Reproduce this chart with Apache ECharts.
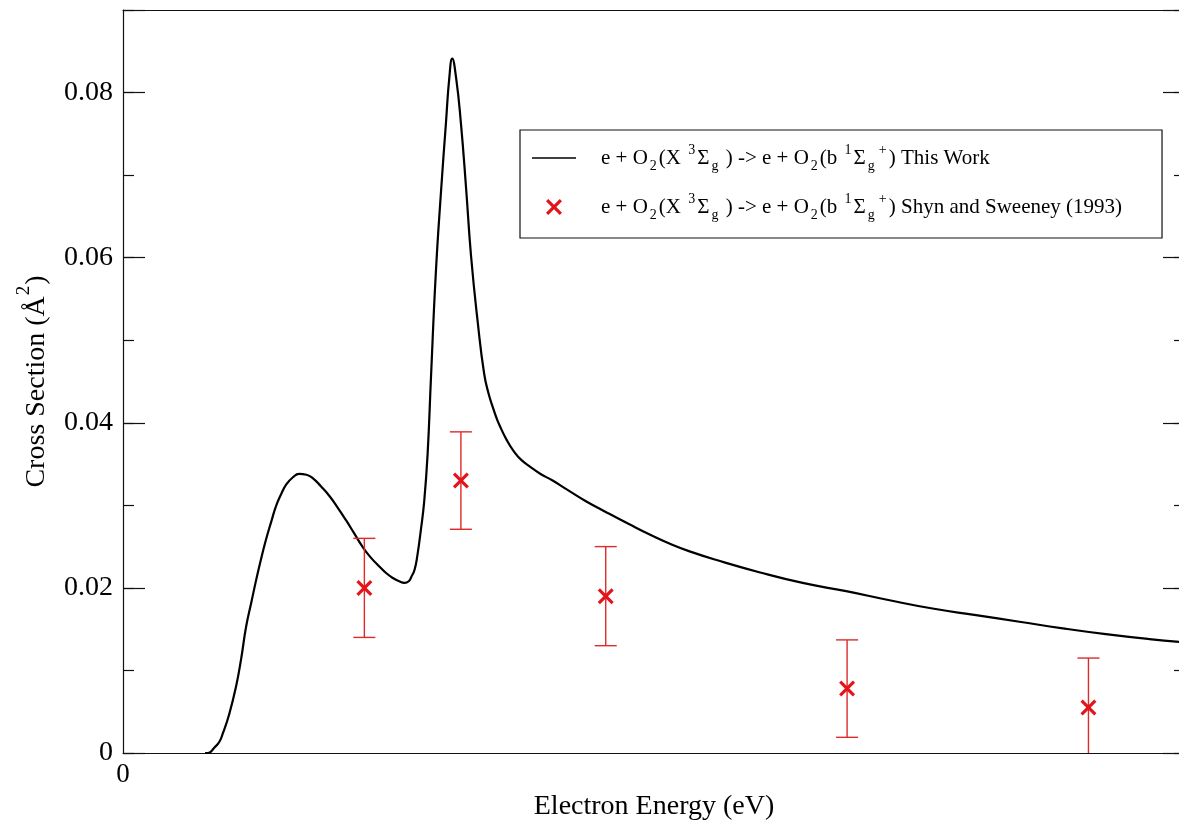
<!DOCTYPE html>
<html>
<head>
<meta charset="utf-8">
<title>Electron impact excitation of O2 b state</title>
<script src="https://cdn.jsdelivr.net/npm/echarts@6/dist/echarts.min.js"></script>
<style>
  html, body { margin: 0; padding: 0; background: #fff; }
  #chart { width: 1179px; height: 826px; }
</style>
</head>
<body>
<div id="chart"></div>
<script>
// Calculated cross section (This Work): electron energy (eV) and cross section (Å^2)
const energyTheory = [1.70, 1.76, 1.90, 2.00, 2.07, 2.20, 2.34, 2.45, 2.55, 2.66, 2.76, 2.86, 2.96, 3.07, 3.17,
  3.28, 3.38, 3.52, 3.65, 3.80, 3.93, 4.10, 4.28, 4.45, 4.62, 4.79, 4.96, 5.13, 5.31, 5.45, 5.59, 5.72,
  5.83, 5.92, 5.97, 6.04, 6.10, 6.17, 6.24, 6.31, 6.38, 6.48, 6.59, 6.69, 6.76, 6.82, 6.90, 7.00, 7.11,
  7.21, 7.35, 7.48, 7.57, 7.66, 7.73, 7.80, 7.95, 8.10, 8.25, 8.45, 8.65, 8.90, 9.20, 9.59, 10.00, 10.49,
  10.90, 11.39, 11.80, 12.28, 13.18, 14.08, 14.98, 15.88, 16.77, 17.67, 18.57, 19.47, 20.36, 21.26, 22.00];
const csTheory = [0.0000, 0.0000, 0.0007, 0.0014, 0.0024, 0.0047, 0.0080, 0.0115, 0.0153, 0.0183, 0.0210, 0.0235, 0.0258, 0.0280, 0.0299,
  0.0314, 0.0325, 0.0334, 0.0338, 0.0337, 0.0333, 0.0323, 0.0311, 0.0297, 0.0282, 0.0266, 0.0250, 0.0237, 0.0226, 0.0218, 0.0212, 0.0208,
  0.0206, 0.0208, 0.0213, 0.0222, 0.0240, 0.0270, 0.0305, 0.0362, 0.0455, 0.0581, 0.0682, 0.0763, 0.0818, 0.0841, 0.0818, 0.0763, 0.0682,
  0.0602, 0.0521, 0.0460, 0.0436, 0.0419, 0.0407, 0.0397, 0.0379, 0.0365, 0.0355, 0.0346, 0.0338, 0.0330, 0.0319, 0.0305, 0.0292, 0.0277,
  0.0265, 0.0252, 0.0243, 0.0234, 0.0219, 0.0206, 0.0196, 0.0185, 0.0175, 0.0167, 0.0159, 0.0151, 0.0144, 0.0138, 0.0134];

// Measured cross section, Shyn and Sweeney (1993), with error bars
const energyExp = [5, 7, 10, 15, 20];
const csExp = [0.0200, 0.0330, 0.0190, 0.0078, 0.0055];
const errExp = [0.0060, 0.0059, 0.0060, 0.0059, 0.0060];

// Axis ticks
const yMajorStep = 0.02;
const yMinorStep = 0.01;
const yMax = 0.09;
const xMax = 22;

const nameTheory = 'This Work';
const nameExp = 'Shyn and Sweeney (1993)';

const FONT = '"Liberation Serif", "DejaVu Serif", serif';
const RED = '#e3151b';
const AXIS_LINE = { color: '#111', width: 1.2 };

const theoryData = energyTheory.map((e, i) => [e, csTheory[i]]);
const expData = energyExp.map((e, i) => [e, csExp[i]]);
const errData = energyExp.map((e, i) => [e, csExp[i] - errExp[i], csExp[i] + errExp[i]]);

// Red "x" marker as a filled outline so it reads as two thick strokes
const CROSS = 'path://M0,0.14 L0.14,0 L0.5,0.36 L0.86,0 L1,0.14 L0.64,0.5 L1,0.86 L0.86,1 L0.5,0.64 L0.14,1 L0,0.86 L0.36,0.5 Z';
// Thin horizontal bar used as the legend key of the calculated curve
const LINE_KEY = 'path://M0,0 L44,0 L44,1.3 L0,1.3 Z';

function reactionLabel(tail) {
  return '{t|e + O}{sub|2}{t|(X }{sup|3}{t|Σ}{sub|g}{t| ) -> e + O}{sub|2}{t|(b }{sup|1}{t|Σ}{sub|g}{sup|+}{t|) ' + tail + '}';
}

function yLabel(v) {
  if (Math.abs(v - yMax) < 1e-9) return '';
  if (v === 0) return '0';
  return v.toFixed(2);
}

const chart = echarts.init(document.getElementById('chart'), null, { renderer: 'canvas' });

// Frame axes on both sides: long ticks every 0.02, short ticks every 0.01
function frameAxis(position, step, tickLength, withLine) {
  return {
    type: 'value',
    min: 0,
    max: yMax,
    interval: step,
    position: position,
    splitLine: { show: false },
    axisLabel: { show: false },
    axisLine: { show: withLine, onZero: false, lineStyle: AXIS_LINE },
    axisTick: { show: true, inside: true, length: tickLength, lineStyle: AXIS_LINE }
  };
}

const leftMain = frameAxis('left', yMajorStep, 22, true);
leftMain.axisLabel = { show: true, formatter: yLabel, fontFamily: FONT, fontSize: 28, color: '#000', margin: 10 };
leftMain.name = '{n|Cross Section (Å}{s|2}{n|)}';
leftMain.nameLocation = 'middle';
leftMain.nameRotate = 90;
leftMain.nameGap = 72;
leftMain.nameTextStyle = {
  rich: {
    n: { fontFamily: FONT, fontSize: 28, color: '#000', lineHeight: 36, verticalAlign: 'bottom' },
    s: { fontFamily: FONT, fontSize: 19, color: '#000', lineHeight: 18, verticalAlign: 'top', padding: [0, 1, 0, 1] }
  }
};

chart.setOption({
  animation: false,
  backgroundColor: '#fff',
  grid: { left: 123, top: 10, width: 1062, height: 743, containLabel: false, outerBoundsMode: 'none' },
  legend: {
    left: 520,
    top: 130,
    orient: 'vertical',
    backgroundColor: '#fff',
    borderColor: '#111',
    borderWidth: 1.2,
    borderRadius: 0,
    padding: [13, 40, 16, 12],
    itemGap: 19,
    itemWidth: 44,
    itemHeight: 16,
    selectedMode: false,
    data: [
      { name: nameTheory, icon: LINE_KEY, itemStyle: { color: '#000' } },
      { name: nameExp, icon: CROSS, itemStyle: { color: RED } }
    ],
    formatter: function (name) { return reactionLabel(name); },
    textStyle: {
      color: '#000',
      fontFamily: FONT,
      padding: [0, 0, 0, 20],
      rich: {
        t: { fontFamily: FONT, fontSize: 21, color: '#000', lineHeight: 30, verticalAlign: 'middle' },
        sub: { fontFamily: FONT, fontSize: 14, color: '#000', lineHeight: 14, verticalAlign: 'bottom', padding: [0, 2, 0, 2] },
        sup: { fontFamily: FONT, fontSize: 14, color: '#000', lineHeight: 14, verticalAlign: 'top', padding: [0, 2, 0, 2] }
      }
    }
  },
  xAxis: [
    {
      type: 'value',
      min: 0,
      max: xMax,
      interval: 100,
      position: 'bottom',
      name: 'Electron Energy (eV)',
      nameLocation: 'middle',
      nameGap: 38,
      nameTextStyle: { fontFamily: FONT, fontSize: 28, color: '#000' },
      axisLine: { show: true, onZero: false, lineStyle: AXIS_LINE },
      axisTick: { show: false },
      splitLine: { show: false },
      axisLabel: {
        fontFamily: FONT, fontSize: 27, color: '#000', margin: 8,
        formatter: function (v) { return v === 0 ? '0' : ''; }
      }
    },
    {
      type: 'value',
      min: 0,
      max: xMax,
      position: 'top',
      axisLine: { show: true, onZero: false, lineStyle: AXIS_LINE },
      axisTick: { show: false },
      axisLabel: { show: false },
      splitLine: { show: false }
    }
  ],
  yAxis: [
    leftMain,
    frameAxis('left', yMinorStep, 11, false),
    frameAxis('right', yMajorStep, 22, true),
    frameAxis('right', yMinorStep, 11, false)
  ],
  series: [
    {
      name: nameTheory,
      type: 'line',
      xAxisIndex: 0,
      yAxisIndex: 0,
      data: theoryData,
      symbol: 'none',
      smooth: 0.5,
      lineStyle: { color: '#000', width: 2.2 },
      itemStyle: { color: '#000' },
      z: 3
    },
    {
      name: 'error bars',
      type: 'custom',
      xAxisIndex: 0,
      yAxisIndex: 0,
      clip: true,
      data: errData,
      encode: { x: 0, y: [1, 2] },
      renderItem: function (params, api) {
        const x = api.value(0);
        const lo = api.coord([x, api.value(1)]);
        const hi = api.coord([x, api.value(2)]);
        const half = 11;
        const style = { stroke: '#dd2a2a', lineWidth: 1.4 };
        return {
          type: 'group',
          children: [
            { type: 'line', shape: { x1: lo[0], y1: lo[1], x2: hi[0], y2: hi[1] }, style: style },
            { type: 'line', shape: { x1: hi[0] - half, y1: hi[1], x2: hi[0] + half, y2: hi[1] }, style: style },
            { type: 'line', shape: { x1: lo[0] - half, y1: lo[1], x2: lo[0] + half, y2: lo[1] }, style: style }
          ]
        };
      },
      z: 4
    },
    {
      name: nameExp,
      type: 'scatter',
      xAxisIndex: 0,
      yAxisIndex: 0,
      data: expData,
      symbol: CROSS,
      symbolSize: 16,
      itemStyle: { color: RED, opacity: 1 },
      z: 5
    }
  ]
});
</script>
</body>
</html>
